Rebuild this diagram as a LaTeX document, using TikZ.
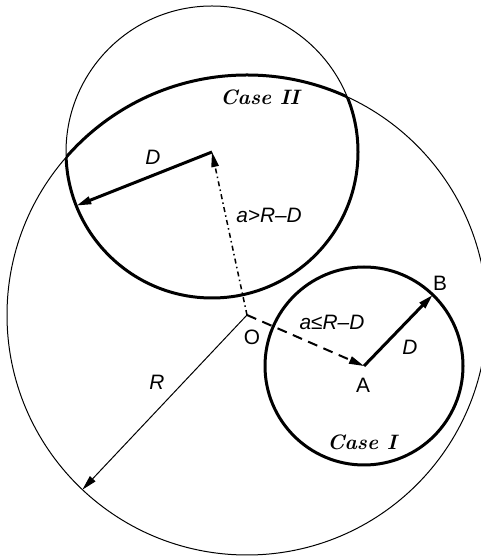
\documentclass[tikz,border=0pt]{standalone}
\usepackage{fontspec}
\setsansfont{Liberation Sans}
\usetikzlibrary{arrows.meta,calc}

\begin{document}
\begin{tikzpicture}[x=0.6pt,y=0.6pt,>={Triangle[length=9pt,width=4.5pt]},
  hair/.style={line width=0.6pt},
  fat/.style={line width=1.8pt},
  lab/.style={font=\fontsize{12.5}{15}\selectfont\sffamily\itshape},
  pt/.style={font=\fontsize{12.5}{15}\selectfont\sffamily},
  cas/.style={font=\fontsize{12.5}{15}\selectfont\bfseries\itshape}]
  \clip (0,0) rectangle (481,559);
  \coordinate (O) at (247,244);
  \coordinate (C) at (212,407);
  \coordinate (A) at (364,193);
  \coordinate (E) at ($(O)+(226.7:240)$);
  \coordinate (F) at ($(C)+(201.6:146)$);
  \coordinate (B) at ($(A)+(46:99)$);
  % the two thin circles
  \draw[hair] (O) circle (240);
  \draw[hair] (C) circle (146);
  % lens of case II
  \begin{scope}
    \clip (O) circle (240);
    \draw[fat] (C) circle (146);
  \end{scope}
  \begin{scope}
    \clip (C) circle (146);
    \draw[fat] (O) circle (240);
  \end{scope}
  % case I
  \draw[fat] (A) circle (99);
  \draw[hair,->] (O) -- (E);
  \draw[line width=0.9pt,dash dot,->] (O) -- (C);
  \draw[fat,->] (C) -- (F);
  \draw[line width=1.2pt,dash pattern=on 6pt off 4pt,->] (O) -- (A);
  \draw[fat,->] (A) -- (B);
  \node[cas] (c2) at (260,462) {Case II};
  \node[cas] (c1) at (362,117) {Case I};
  \node[lab] (d2) at (153,402) {D};
  \node[lab] (a2) at (269,344) {a>R–D};
  \node[pt] (o) at (252,222) {O};
  \node[lab] (a1) at (332,237) {a≤R–D};
  \node[lab] (d1) at (410,212) {D};
  \node[pt] (a) at (363,174) {A};
  \node[pt] (b) at (440,276) {B};
  \node[lab] (r) at (157,177) {R};
\end{tikzpicture}
\end{document}
